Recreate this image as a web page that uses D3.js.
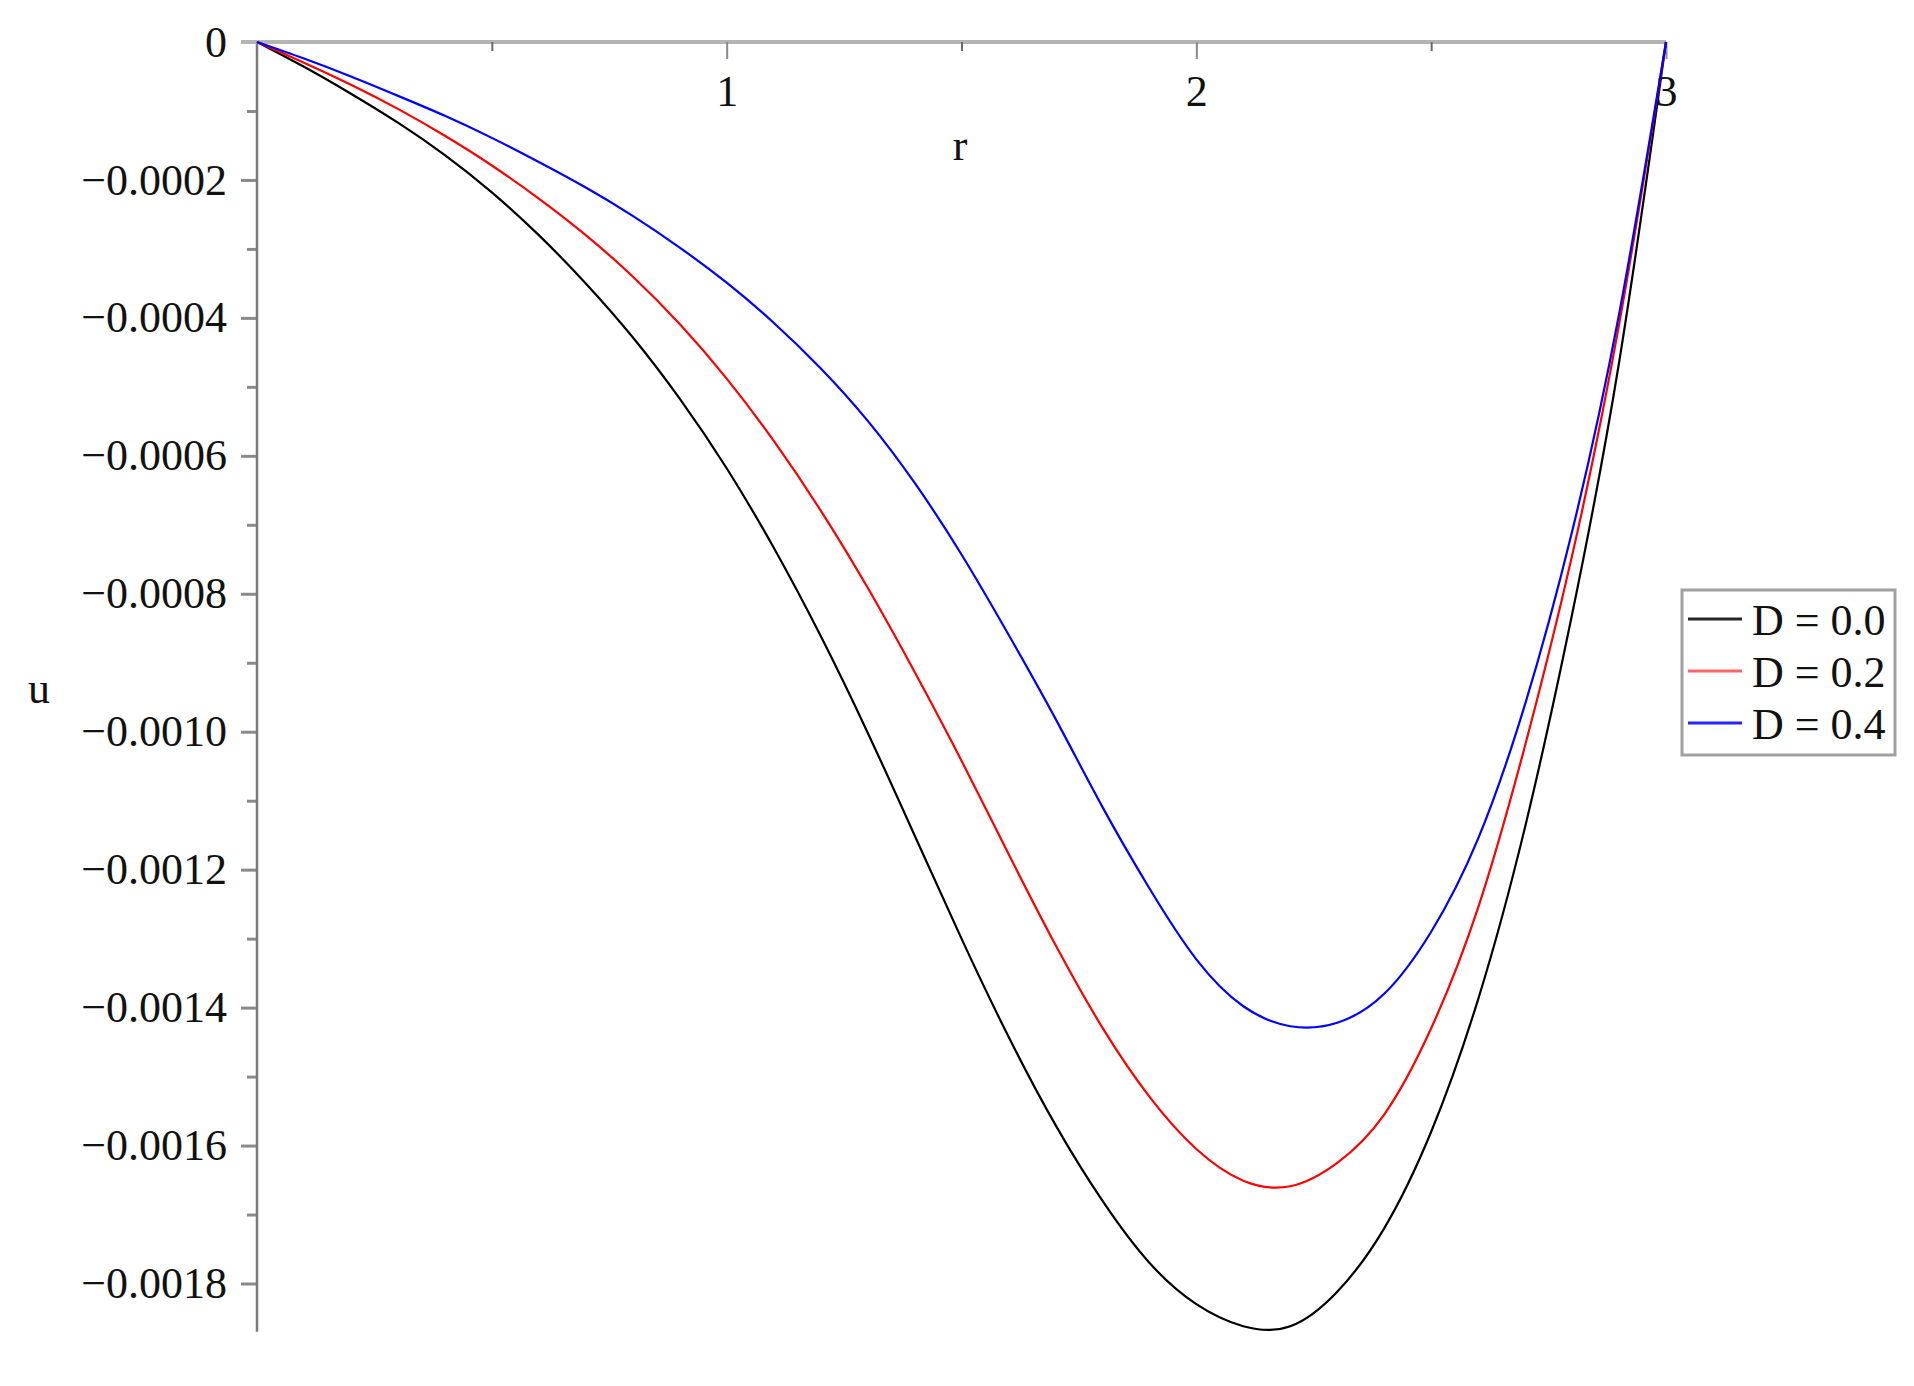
<!DOCTYPE html>
<html>
<head>
<meta charset="utf-8">
<script src="https://cdn.jsdelivr.net/npm/d3@7"></script>
<style>
  html, body { margin: 0; padding: 0; background: #fff; }
  svg { display: block; }
  text { font-family: "Liberation Serif", "Times New Roman", serif; fill: #111; }
</style>
</head>
<body>
<svg id="chart" width="1914" height="1386"></svg>
<script>
// ---- data ----
const rValues = [0, 0.1, 0.2, 0.3, 0.4, 0.5, 0.6, 0.7, 0.8, 0.9, 1.0, 1.1, 1.2, 1.3, 1.4, 1.5,
                 1.6, 1.7, 1.8, 1.9, 2.0, 2.1, 2.2, 2.3, 2.4, 2.5, 2.6, 2.7, 2.8, 2.9, 3.0];
// u values in units of 1e-4
const uD00 = [0, -0.36, -0.75, -1.17, -1.64, -2.18, -2.80, -3.50, -4.28, -5.17, -6.18, -7.33, -8.61, -10.01, -11.50, -13.00,
              -14.42, -15.70, -16.80, -17.70, -18.30, -18.62, -18.62, -18.12, -17.20, -15.80, -13.88, -11.38, -8.30, -4.65, 0];
const uD02 = [0, -0.30, -0.62, -0.97, -1.36, -1.79, -2.27, -2.80, -3.40, -4.09, -4.88, -5.78, -6.79, -7.91, -9.13, -10.42,
              -11.77, -13.09, -14.29, -15.29, -16.05, -16.51, -16.59, -16.25, -15.55, -14.30, -12.55, -10.20, -7.45, -4.10, 0];
const uD04 = [0, -0.24, -0.50, -0.78, -1.07, -1.39, -1.74, -2.11, -2.52, -2.98, -3.49, -4.07, -4.73, -5.49, -6.39, -7.43,
              -8.59, -9.81, -11.09, -12.27, -13.30, -13.98, -14.27, -14.22, -13.80, -12.90, -11.55, -9.60, -7.10, -3.95, 0];
const seriesNames = ["D = 0.0", "D = 0.2", "D = 0.4"];
const seriesColors = ["#000000", "#ff0000", "#0000ff"];
const xTickValues = [1, 2, 3];
const xMinorTicks = [0.5, 1.5, 2.5];
const yTickValues = [0, -0.0002, -0.0004, -0.0006, -0.0008, -0.0010, -0.0012, -0.0014, -0.0016, -0.0018];
const yMinorTicks = [-0.0001, -0.0003, -0.0005, -0.0007, -0.0009, -0.0011, -0.0013, -0.0015, -0.0017];
const xLabel = "r";
const yLabel = "u";

// ---- layout ----
const svg = d3.select("#chart");
const x = d3.scaleLinear().domain([0, 3]).range([257, 1666]);
const y = d3.scaleLinear().domain([0, -0.0018]).range([42, 1283.5]);
const yBottom = -0.00187;

const series = [uD00, uD02, uD04].map((vals, i) => ({
  name: seriesNames[i],
  color: seriesColors[i],
  points: rValues.map((r, j) => ({ r: r, u: vals[j] * 1e-4 }))
}));

// Y axis (left)
const yAxisG = svg.append("g").attr("transform", `translate(${x(0)},0)`);
yAxisG.call(d3.axisLeft(y).tickValues(yTickValues).tickSize(16).tickPadding(14)
  .tickFormat(d => d === 0 ? "0" : d3.format(".4f")(d)));
yAxisG.select(".domain").remove();
yAxisG.selectAll(".tick line").attr("stroke", "#8a8a8a").attr("stroke-width", 3);
yAxisG.selectAll(".tick text").style("font-size", "44px").attr("fill", "#111")
  .attr("font-family", "Liberation Serif, serif");

const yMinorG = svg.append("g").attr("transform", `translate(${x(0)},0)`);
yMinorG.call(d3.axisLeft(y).tickValues(yMinorTicks).tickSize(10).tickFormat(""));
yMinorG.select(".domain").remove();
yMinorG.selectAll(".tick line").attr("stroke", "#8a8a8a").attr("stroke-width", 3);

svg.append("line")
  .attr("x1", x(0)).attr("x2", x(0))
  .attr("y1", y(0)).attr("y2", y(yBottom))
  .attr("stroke", "#7a7a7a").attr("stroke-width", 2.5);

// X axis (at u = 0, top)
svg.append("line")
  .attr("x1", x(0) - 16).attr("x2", x(3))
  .attr("y1", y(0)).attr("y2", y(0))
  .attr("stroke", "#b4b4b4").attr("stroke-width", 4);

const xAxisG = svg.append("g").attr("transform", `translate(0,${y(0)})`);
xAxisG.call(d3.axisBottom(x).tickValues(xTickValues).tickSize(17).tickPadding(16)
  .tickFormat(d3.format("d")));
xAxisG.select(".domain").remove();
xAxisG.selectAll(".tick line").attr("stroke", "#8a8a8a").attr("stroke-width", 2);
xAxisG.selectAll(".tick text").style("font-size", "44px").attr("fill", "#111")
  .attr("font-family", "Liberation Serif, serif");

const xMinorG = svg.append("g").attr("transform", `translate(0,${y(0)})`);
xMinorG.call(d3.axisBottom(x).tickValues(xMinorTicks).tickSize(9).tickFormat(""));
xMinorG.select(".domain").remove();
xMinorG.selectAll(".tick line").attr("stroke", "#6a6a6a").attr("stroke-width", 2);

// Axis labels
svg.append("text").attr("x", 960).attr("y", 160).attr("text-anchor", "middle")
  .style("font-size", "44px").text(xLabel);
svg.append("text").attr("x", 39).attr("y", 703).attr("text-anchor", "middle")
  .style("font-size", "44px").text(yLabel);

// Curves
const line = d3.line()
  .x(d => x(d.r))
  .y(d => y(d.u))
  .curve(d3.curveNatural);

svg.append("g").selectAll("path")
  .data(series)
  .join("path")
  .attr("d", d => line(d.points))
  .attr("fill", "none")
  .attr("stroke", d => d.color)
  .attr("stroke-width", 2.2)
  .attr("stroke-linejoin", "round");

// Legend
const lg = svg.append("g");
lg.append("rect")
  .attr("x", 1682).attr("y", 590).attr("width", 213).attr("height", 165)
  .attr("fill", "#fff").attr("stroke", "#a0a0a0").attr("stroke-width", 3);
const rowY = [619, 671, 723];
series.forEach((s, i) => {
  lg.append("line")
    .attr("x1", 1688).attr("x2", 1742)
    .attr("y1", rowY[i]).attr("y2", rowY[i])
    .attr("stroke", s.color).attr("stroke-width", 3).attr("opacity", i === 1 ? 0.6 : 0.85);
  lg.append("text")
    .attr("x", 1752).attr("y", rowY[i] + 16)
    .style("font-size", "44px")
    .text(s.name);
});
</script>
</body>
</html>
